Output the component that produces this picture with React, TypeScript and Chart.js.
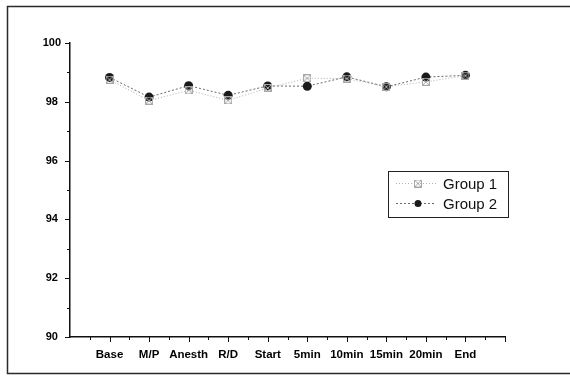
import React, { useEffect, useRef } from "react";
import { Chart, registerables } from "chart.js";

Chart.register(...registerables);

const categories = ["Base", "M/P", "Anesth", "R/D", "Start", "5min", "10min", "15min", "20min", "End"];
const group1 = [98.75, 98.04, 98.39, 98.05, 98.47, 98.8, 98.79, 98.51, 98.68, 98.89];
const group2 = [98.83, 98.16, 98.55, 98.22, 98.54, 98.53, 98.85, 98.51, 98.84, 98.9];
const yTicks = [90, 92, 94, 96, 98, 100];
const seriesNames = ["Group 1", "Group 2"];

const FONT = "'Liberation Sans', Arial, sans-serif";

function makeCrossSquare(): HTMLCanvasElement {
  const c = document.createElement("canvas");
  c.width = 8;
  c.height = 8;
  const g = c.getContext("2d")!;
  g.strokeStyle = "#a8a8a8";
  g.lineWidth = 1;
  g.strokeRect(0.5, 0.5, 7, 7);
  g.beginPath();
  g.moveTo(1, 1);
  g.lineTo(7, 7);
  g.moveTo(7, 1);
  g.lineTo(1, 7);
  g.stroke();
  return c;
}

export default function App() {
  const ref = useRef<HTMLCanvasElement>(null);

  useEffect(() => {
    document.body.style.margin = "0";
    const canvas = ref.current!;
    const marker1 = makeCrossSquare();

    const framePlugin = {
      id: "frame",
      beforeDraw(chart: any) {
        const ctx = chart.ctx;
        ctx.save();
        ctx.fillStyle = "#fff";
        ctx.fillRect(0, 0, chart.width, chart.height);
        ctx.strokeStyle = "#2a2a2a";
        ctx.lineWidth = 1.5;
        ctx.beginPath();
        ctx.moveTo(chart.width + 2, 6.5);
        ctx.lineTo(7.5, 6.5);
        ctx.lineTo(7.5, 373.5);
        ctx.lineTo(chart.width + 2, 373.5);
        ctx.stroke();
        ctx.restore();
      },
      afterDraw(chart: any) {
        const ctx = chart.ctx;
        const xs = chart.scales.x;
        const ys = chart.scales.y;
        ctx.save();
        ctx.strokeStyle = "#111";
        ctx.lineWidth = 1;
        const bottom = ys.getPixelForValue(90);
        for (let i = 1; i <= 22; i++) {
          const v = i / 2;
          const px = Math.round(xs.getPixelForValue(v)) + 0.5;
          const len = i % 2 === 0 ? 5 : 3;
          ctx.beginPath();
          ctx.moveTo(px, bottom);
          ctx.lineTo(px, bottom + len);
          ctx.stroke();
        }
        const left = xs.getPixelForValue(0);
        for (let v = 90; v <= 100; v++) {
          const py = Math.round(ys.getPixelForValue(v)) + 0.5;
          const len = v % 2 === 0 ? 5 : 3;
          ctx.beginPath();
          ctx.moveTo(left, py);
          ctx.lineTo(left - len, py);
          ctx.stroke();
        }
        const bx = 388.5, by = 171.5, bw = 120, bh = 46;
        ctx.fillStyle = "#fff";
        ctx.fillRect(bx, by, bw, bh);
        ctx.strokeStyle = "#222";
        ctx.lineWidth = 1;
        ctx.strokeRect(bx, by, bw, bh);
        const rows = [by + 12, by + 32];
        chart.data.datasets.forEach((ds: any, i: number) => {
          const ry = rows[i];
          ctx.save();
          ctx.strokeStyle = ds.borderColor;
          ctx.lineWidth = 1;
          ctx.setLineDash(ds.borderDash);
          ctx.beginPath();
          ctx.moveTo(396, ry);
          ctx.lineTo(436, ry);
          ctx.stroke();
          ctx.restore();
          if (i === 0) {
            ctx.drawImage(marker1, 414, ry - 4);
          } else {
            ctx.fillStyle = "#1a1a1a";
            ctx.beginPath();
            ctx.arc(418, ry, 3.5, 0, Math.PI * 2);
            ctx.fill();
          }
          ctx.fillStyle = "#111";
          ctx.font = `15px ${FONT}`;
          ctx.textBaseline = "middle";
          ctx.textAlign = "left";
          ctx.fillText(ds.label, 443, ry + 1);
        });
        ctx.restore();
      },
    };

    const chart = new Chart(canvas, {
      type: "line",
      data: {
        datasets: [
          {
            label: seriesNames[0],
            data: group1.map((v, i) => ({ x: i + 1, y: v })),
            borderColor: "#b0b0b0",
            borderWidth: 1,
            borderDash: [1, 2],
            pointStyle: marker1 as any,
            pointRadius: 4,
            backgroundColor: "#b0b0b0",
          },
          {
            label: seriesNames[1],
            data: group2.map((v, i) => ({ x: i + 1, y: v })),
            borderColor: "#6a6a6a",
            borderWidth: 1,
            borderDash: [2, 2],
            pointStyle: "circle",
            pointRadius: 4.5,
            pointBackgroundColor: "#1a1a1a",
            pointBorderColor: "#1a1a1a",
            pointBorderWidth: 0,
          },
        ],
      },
      options: {
        animation: false,
        responsive: false,
        events: [],
        layout: { padding: { left: 0, right: 65, top: 43, bottom: 12 } },
        plugins: { legend: { display: false }, tooltip: { enabled: false } },
        scales: {
          x: {
            type: "linear",
            min: 0,
            max: 11,
            grid: { display: false },
            border: { display: true, color: "#111", width: 1.5 },
            afterFit: (s: any) => { s.height = 30; },
            afterBuildTicks: (s: any) => {
              s.ticks = categories.map((_, i) => ({ value: i + 1 }));
            },
            ticks: {
              autoSkip: false,
              maxRotation: 0,
              padding: 3,
              color: "#000",
              font: { family: FONT, size: 11.5, weight: "bold" },
              callback: (v: any) => categories[Number(v) - 1] ?? "",
            },
          },
          y: {
            min: 90,
            max: 100,
            grid: { display: false },
            border: { display: true, color: "#111", width: 1.5 },
            afterFit: (s: any) => { s.width = 70; },
            afterBuildTicks: (s: any) => {
              s.ticks = yTicks.map((v) => ({ value: v }));
            },
            ticks: {
              padding: 1,
              crossAlign: "center",
              color: "#000",
              font: { family: FONT, size: 11, weight: "bold" },
              callback: (v: any) => String(v),
            },
          },
        },
      },
      plugins: [framePlugin],
    });
    return () => chart.destroy();
  }, []);

  return <canvas ref={ref} width={570} height={379} style={{ display: "block" }} />;
}
